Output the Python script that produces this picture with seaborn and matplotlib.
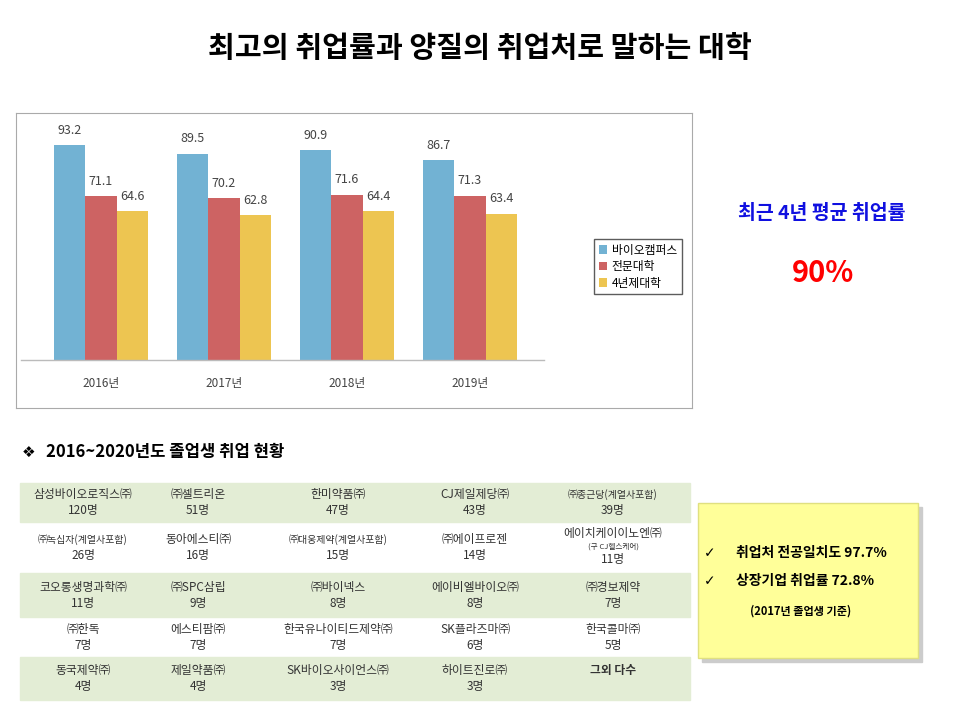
import matplotlib
matplotlib.use("Agg")
from matplotlib import pyplot as plt
from matplotlib.patches import Rectangle
import seaborn as sns
import pandas as pd

KR = ["Noto Sans CJK JP", "Noto Sans CJK KR", "Noto Sans CJK SC", "DejaVu Sans"]
plt.rcParams["font.family"] = KR

years = ["2016년", "2017년", "2018년", "2019년"]
groups = ["바이오캠퍼스", "전문대학", "4년제대학"]
bio = [93.2, 89.5, 90.9, 86.7]
college = [71.1, 70.2, 71.6, 71.3]
univ = [64.6, 62.8, 64.4, 63.4]
colors = ["#72B2D3", "#CD6363", "#EDC551"]

companies = [
    ["삼성바이오로직스㈜", "㈜셀트리온", "한미약품㈜", "CJ제일제당㈜", "㈜종근당(계열사포함)"],
    ["㈜녹십자(계열사포함)", "동아에스티㈜", "㈜대웅제약(계열사포함)", "㈜에이프로젠", "에이치케이이노엔㈜"],
    ["코오롱생명과학㈜", "㈜SPC삼립", "㈜바이넥스", "에이비엘바이오㈜", "㈜경보제약"],
    ["㈜한독", "에스티팜㈜", "한국유나이티드제약㈜", "SK플라즈마㈜", "한국콜마㈜"],
    ["동국제약㈜", "제일약품㈜", "SK바이오사이언스㈜", "하이트진로㈜", "그외 다수"],
]
hires = [
    ["120명", "51명", "47명", "43명", "39명"],
    ["26명", "16명", "15명", "14명", "11명"],
    ["11명", "9명", "8명", "8명", "7명"],
    ["7명", "7명", "7명", "6명", "5명"],
    ["4명", "4명", "3명", "3명", ""],
]

W, H = 960, 720
fig = plt.figure(figsize=(9.6, 7.2), dpi=100)


def fx(x):
    return x / W


def fy(y):
    return 1 - y / H


def txt(x, y, s, **kw):
    kw.setdefault("ha", "center")
    kw.setdefault("va", "center")
    fig.text(fx(x), fy(y), s, **kw)


txt(480, 48, "최고의 취업률과 양질의 취업처로 말하는 대학", fontsize=21, fontweight="bold")

# bar chart
ax = fig.add_axes([fx(16), fy(408), fx(692 - 16), (408 - 113) / H])
df = pd.DataFrame({
    "year": years * 3,
    "group": [g for g in groups for _ in years],
    "rate": bio + college + univ,
})
sns.barplot(data=df, x="year", y="rate", hue="group", palette=colors,
            width=0.76, ax=ax, legend=True, saturation=1)
scale = (360 - 145) / 93.2
ax.set_xlim((16 - 101) / 123, (692 - 101) / 123)
ax.set_ylim(-(408 - 360) / scale, (360 - 113) / scale)
ax.plot([-0.65, 3.6], [0, 0], color="#BBBBBB", lw=1)
for c in ax.containers:
    ax.bar_label(c, fmt="%.1f", padding=6, fontsize=9, color="#444444")
for i, yr in enumerate(years):
    ax.text(i, -23 / scale, yr, ha="center", va="center", fontsize=8.5, color="#444444")
ax.set_xticks([])
ax.set_yticks([])
ax.set_xlabel("")
ax.set_ylabel("")
for s in ax.spines.values():
    s.set_color("#AAAAAA")
leg = ax.legend(loc="upper left", bbox_to_anchor=((588 - 16) / 676, (408 - 233) / 295),
                fontsize=8.5, frameon=True, fancybox=False, edgecolor="#333333",
                handlelength=0.7, handleheight=0.7, handletextpad=0.4,
                borderpad=0.4, labelspacing=0.3)
leg.get_frame().set_linewidth(1)

txt(822, 213, "최근 4년 평균 취업률", fontsize=14, fontweight="bold", color="#1010E0")
txt(823, 273, "90%", fontsize=21, fontweight="bold", color="#FF0000")

# table
txt(22, 452, "❖", fontsize=11, family="DejaVu Sans", ha="left")
txt(46, 452, "2016~2020년도 졸업생 취업 현황", fontsize=12, fontweight="bold", ha="left")
row_edges = [483, 522, 573, 617, 657, 700]
col_x = [83, 198, 338, 475, 613]
for r in range(5):
    y0, y1 = row_edges[r], row_edges[r + 1]
    if r % 2 == 0:
        fig.patches.append(Rectangle((fx(20), fy(y1)), fx(670), (y1 - y0) / H,
                                     transform=fig.transFigure, color="#E3EDD5", zorder=0))
    ym = (y0 + y1) / 2
    for c in range(5):
        name, n = companies[r][c], hires[r][c]
        fs = 7.2 if "계열사" in name else 8.5
        if r == 1 and c == 4:
            txt(col_x[c], ym - 14, name, fontsize=8.5, color="#333333")
            txt(col_x[c], ym - 1, "(구 CJ헬스케어)", fontsize=5.5, color="#333333")
            txt(col_x[c], ym + 12, n, fontsize=8.5, color="#333333")
        elif n == "":
            txt(col_x[c], ym - 8, name, fontsize=8.5, fontweight="bold", color="#333333")
        else:
            txt(col_x[c], ym - 8, name, fontsize=fs, color="#333333")
            txt(col_x[c], ym + 8, n, fontsize=8.5, color="#333333")

# note box
fig.patches.append(Rectangle((fx(702), fy(662)), fx(220), 155 / H,
                             transform=fig.transFigure, color="#CCCCCC", zorder=0))
fig.patches.append(Rectangle((fx(698), fy(658)), fx(220), 155 / H,
                             transform=fig.transFigure, facecolor="#FFFF99",
                             edgecolor="#E0E080", zorder=1))
txt(710, 553, "✓", fontsize=10, family="DejaVu Sans")
txt(736, 553, "취업처 전공일치도 97.7%", fontsize=10, fontweight="bold", ha="left")
txt(710, 581, "✓", fontsize=10, family="DejaVu Sans")
txt(736, 581, "상장기업 취업률 72.8%", fontsize=10, fontweight="bold", ha="left")
txt(801, 611, "(2017년 졸업생 기준)", fontsize=8, fontweight="bold")

fig.savefig("out.png", dpi=100)
